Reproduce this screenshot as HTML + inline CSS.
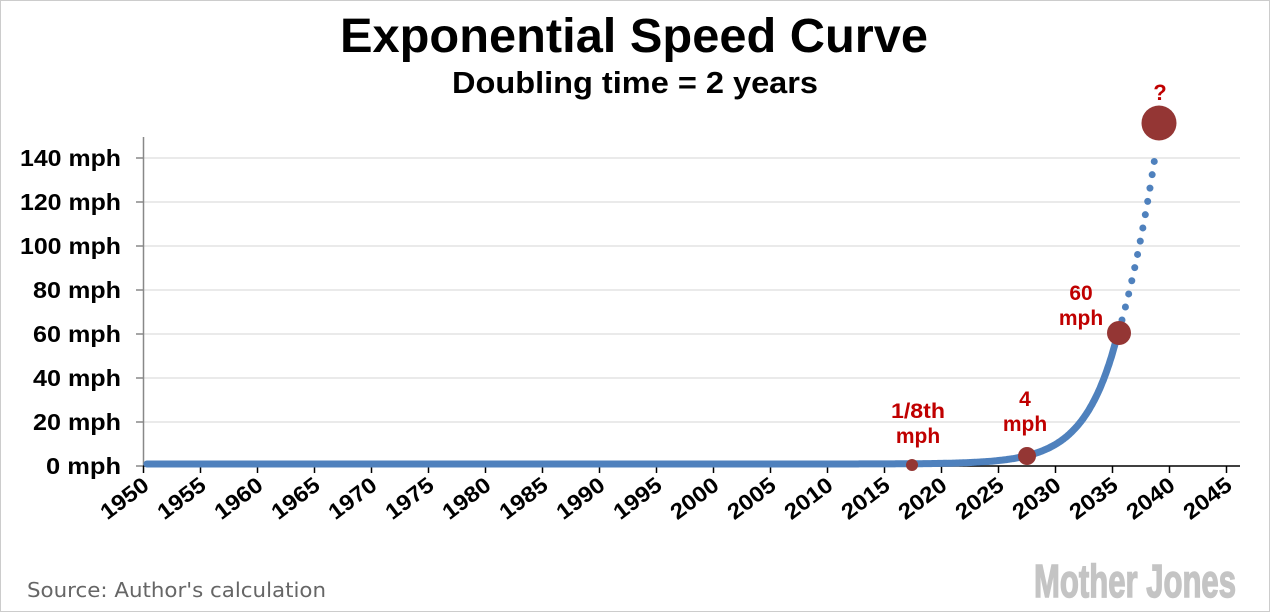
<!DOCTYPE html>
<html><head><meta charset="utf-8"><style>
body{margin:0;background:#fff}
svg{display:block}
</style></head><body>
<svg width="1271" height="613" xmlns="http://www.w3.org/2000/svg" font-family="Liberation Sans,sans-serif">
<rect x="0.5" y="0.5" width="1269" height="611" fill="#fff" stroke="#ccc"/>
<text x="634" y="52" text-anchor="middle" font-size="48" font-weight="bold" fill="#000" textLength="588" lengthAdjust="spacingAndGlyphs">Exponential Speed Curve</text>
<text x="635" y="93" text-anchor="middle" font-size="31" font-weight="bold" fill="#000" textLength="366" lengthAdjust="spacingAndGlyphs">Doubling time = 2 years</text>
<g stroke="#e3e3e3" stroke-width="1.5">
<line x1="144" x2="1240" y1="158" y2="158"/><line x1="144" x2="1240" y1="202" y2="202"/>
<line x1="144" x2="1240" y1="246" y2="246"/><line x1="144" x2="1240" y1="290" y2="290"/>
<line x1="144" x2="1240" y1="334" y2="334"/><line x1="144" x2="1240" y1="378" y2="378"/>
<line x1="144" x2="1240" y1="422" y2="422"/>
</g>
<line x1="143.5" y1="137" x2="143.5" y2="466" stroke="#888" stroke-width="1.5"/>
<g stroke="#888" stroke-width="1.5">
<line x1="136" x2="143" y1="158" y2="158"/><line x1="136" x2="143" y1="202" y2="202"/>
<line x1="136" x2="143" y1="246" y2="246"/><line x1="136" x2="143" y1="290" y2="290"/>
<line x1="136" x2="143" y1="334" y2="334"/><line x1="136" x2="143" y1="378" y2="378"/>
<line x1="136" x2="143" y1="422" y2="422"/><line x1="136" x2="143" y1="466" y2="466"/>
</g>
<g font-size="23" font-weight="bold" text-anchor="end" fill="#000">
<text x="121" y="166" textLength="101" lengthAdjust="spacingAndGlyphs">140 mph</text><text x="121" y="210" textLength="101" lengthAdjust="spacingAndGlyphs">120 mph</text>
<text x="121" y="254" textLength="101" lengthAdjust="spacingAndGlyphs">100 mph</text><text x="121" y="298" textLength="88" lengthAdjust="spacingAndGlyphs">80 mph</text>
<text x="121" y="342" textLength="88" lengthAdjust="spacingAndGlyphs">60 mph</text><text x="121" y="386" textLength="88" lengthAdjust="spacingAndGlyphs">40 mph</text>
<text x="121" y="430" textLength="88" lengthAdjust="spacingAndGlyphs">20 mph</text><text x="121" y="474" textLength="75" lengthAdjust="spacingAndGlyphs">0 mph</text>
</g>
<g id="xt"></g>
<line x1="143" y1="466" x2="1240" y2="466" stroke="#000" stroke-width="1.5"/>
<path id="curve" d="" fill="none" stroke="#4f81bd" stroke-width="7" stroke-linecap="round"/>
<path d="M1122,320 Q1141,250 1156,150" fill="none" stroke="#4f81bd" stroke-width="7" stroke-linecap="round" stroke-dasharray="0 13.5"/>
<circle cx="912" cy="465" r="6" fill="#943634"/>
<circle cx="1027" cy="456" r="9" fill="#943634"/>
<circle cx="1119" cy="333" r="12" fill="#943634"/>
<circle cx="1159" cy="123" r="17.5" fill="#943634"/>
<g font-size="21" font-weight="bold" fill="#c00000" text-anchor="middle">
<text x="918" y="418" textLength="54" lengthAdjust="spacingAndGlyphs">1/8th</text><text x="918" y="443">mph</text>
<text x="1025" y="406">4</text><text x="1025" y="431">mph</text>
<text x="1081" y="300">60</text><text x="1081" y="325">mph</text>
<text x="1160" y="100" font-size="22">?</text>
</g>
<text x="27" y="597" font-size="20" fill="#666" font-family="DejaVu Sans,sans-serif" textLength="299" lengthAdjust="spacingAndGlyphs">Source: Author's calculation</text>
<text x="1034" y="597" font-size="46" font-weight="bold" fill="#c4c4c4" textLength="202" lengthAdjust="spacingAndGlyphs" stroke="#c4c4c4" stroke-width="1.5">Mother Jones</text>
</svg>
<script>
var g=document.getElementById('xt'),s='';
for(var y=1950;y<=2045;y+=5){var x=143.5+(y-1950)*11.4;
s+='<line x1="'+x+'" x2="'+x+'" y1="466" y2="473" stroke="#000" stroke-width="1.5"/>';
s+='<text transform="translate('+(x+7)+',488) rotate(-37)" text-anchor="end" font-size="22" font-weight="bold" fill="#000" textLength="54" lengthAdjust="spacingAndGlyphs">'+y+'</text>';}
g.innerHTML=s;
var d='';for(var yr=1950.3;yr<=2035.45;yr+=0.1){var v=60*Math.pow(2,(yr-2035.5)/2);var px=143.5+(yr-1950)*11.4,py=464-v*2.2;d+=(d?'L':'M')+px.toFixed(1)+','+py.toFixed(1);}
document.getElementById('curve').setAttribute('d',d);
</script>
</body></html>
